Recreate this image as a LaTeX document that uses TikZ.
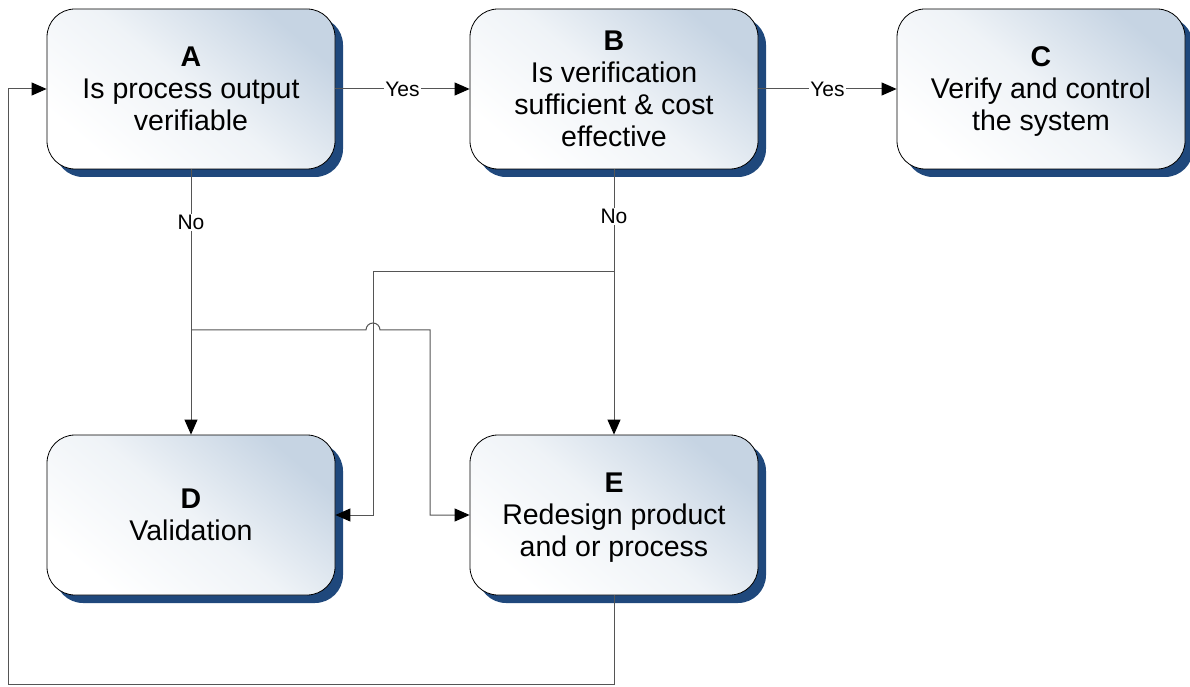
\documentclass[tikz,border=0pt]{standalone}
\usepackage{fontspec}
\setmainfont{Liberation Sans}
\usetikzlibrary{arrows.meta,shadows}
\definecolor{shadowblue}{HTML}{1F487C}
\definecolor{boxblue}{HTML}{C6D4E3}
\definecolor{boxmid}{HTML}{EFF3F7}
\definecolor{linegray}{HTML}{555555}
\begin{document}
\begin{tikzpicture}[x=1pt,y=1pt,
  box/.style={draw=black, line width=0.8pt, rounded corners=28pt,
    minimum width=288pt, minimum height=160pt, inner sep=0pt, align=center,
    font=\fontsize{28.5}{32}\selectfont,
    top color=boxblue, bottom color=white, middle color=boxmid, shading angle=-40,
    general shadow={fill=shadowblue, shadow xshift=8pt, shadow yshift=-8pt}},
  conn/.style={draw=linegray, line width=1pt},
  arr/.style={conn, -{Triangle[length=15pt,width=13pt,color=black]}},
  lab/.style={fill=white, inner sep=1pt, font=\fontsize{21}{24}\selectfont}]
\useasboundingbox (0,0) rectangle (1190,686);

\node[box] (A) at (191,597) {\textbf{A}\\Is process output\\verifiable};
\node[box] (B) at (614,597) {\textbf{B}\\Is verification\\sufficient \& cost\\effective};
\node[box] (C) at (1041,597) {\textbf{C}\\Verify and control\\\raisebox{0pt}[\height][0pt]{the system}};
\node[box] (D) at (191,171) {\textbf{D}\\Validation};
\node[box] (E) at (614,171) {\textbf{E}\\Redesign product\\\raisebox{0pt}[\height][0pt]{and or process}};

\coordinate (j1) at (191,356);
\coordinate (j2) at (614,414);
\coordinate (bl) at (8,2);

% branch from B to D (drawn first, the other line jumps over it)
\draw[arr] (j2) -- (373,414) |- (D.east);
% branch from A to E with a jump
\draw[arr] (j1) -- (366,356) arc[start angle=180,end angle=0,radius=7] -- (430,356) |- (E.west);

\draw[arr] (A.east) -- node[lab]{Yes} (B.west|-A.east);
\draw[arr] (B.east) -- node[lab]{Yes} (C.west|-B.east);
\draw[arr] (A.south) -- node[lab,pos=0.2]{No} (D.north);
\draw[arr] (B.south) -- node[lab,pos=0.177]{No} (E.north);
\draw[arr] (E.south) |- (bl) |- (A.west);
\end{tikzpicture}
\end{document}
